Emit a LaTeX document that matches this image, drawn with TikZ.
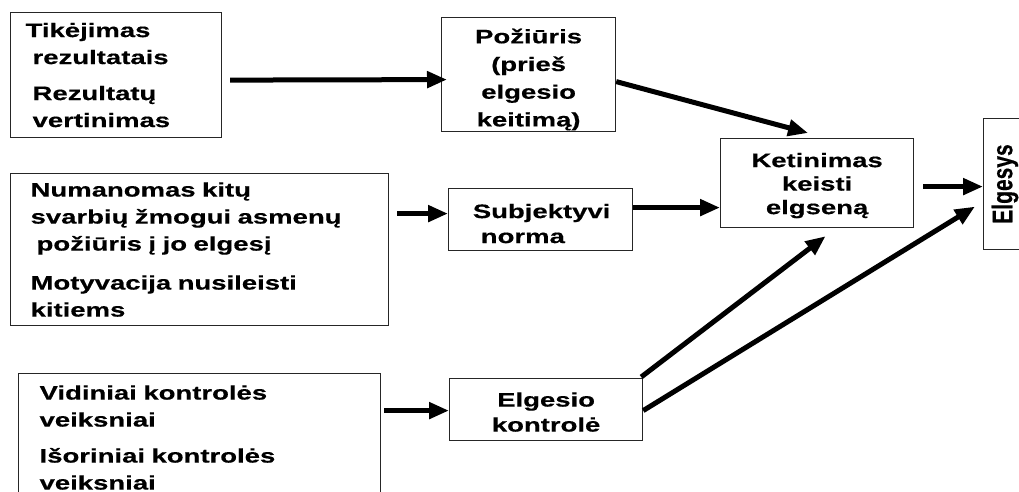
\documentclass[tikz,border=0pt]{standalone}
\usepackage{fontspec}
\setmainfont{Liberation Sans}[FakeStretch=1.41,FakeBold=0.4]
\newfontfamily\plainf{Liberation Sans}[FakeBold=0.4]
\usetikzlibrary{arrows.meta,calc}
\tikzset{
  box/.style={draw=black!85, line width=1.2pt, rectangle, inner ysep=0pt, anchor=north west},
  txt/.style={font=\bfseries\fontsize{19.5}{27}\selectfont},
  ctxt/.style={inner sep=0pt, align=center},
  arr/.style={line width=5pt, -{Triangle[length=20pt,width=16pt]}},
}
\begin{document}
\begin{tikzpicture}[x=1pt,y=-1pt]
\useasboundingbox[fill=white] (0,0) rectangle (1019,492);
% left boxes
\node[box, txt, minimum width=211pt, minimum height=125pt, inner xsep=15pt, text width=181pt, align=left] (b1) at (10,12)
 {Tikėjimas\\\hspace*{7pt}rezultatais\\[9pt]\hspace*{7pt}Rezultatų\\\hspace*{7pt}vertinimas};
\node[box, txt, minimum width=378pt, minimum height=152pt, inner xsep=20pt, text width=338pt, align=left] (b3) at (10,173)
 {Numanomas kitų\\svarbių žmogui asmenų\\\hspace*{6pt}požiūris į jo elgesį\\[12pt]Motyvacija nusileisti\\kitiems};
\node[box, txt, minimum width=362pt, minimum height=128pt, inner xsep=21pt, text width=320pt, align=left] (b6) at (18,373)
 {Vidiniai kontrolės\\veiksniai\\[9pt]Išoriniai kontrolės\\veiksniai};
% middle boxes
\node[box, minimum width=174pt, minimum height=114pt] (b2) at (441,17) {};
\node[ctxt, font=\bfseries\fontsize{19.5}{27.7}\selectfont] (t2) at ($(b2.center)+(0,5)$)
 {Požiūris\\(prieš\\elgesio\\keitimą)};
\node[box, minimum width=184pt, minimum height=62pt] (b4) at (448,188) {};
\node[inner sep=0pt, align=left, font=\bfseries\fontsize{19.5}{25}\selectfont] (t4) at ($(b4.center)+(1,4)$)
 {Subjektyvi\\\hspace*{8pt}norma};
\node[box, minimum width=193pt, minimum height=62pt] (b8) at (449,378) {};
\node[ctxt, font=\bfseries\fontsize{19.5}{25}\selectfont] (t8) at ($(b8.center)+(0,2.5)$)
 {Elgesio\\kontrolė};
\node[box, minimum width=193pt, minimum height=89pt] (b5) at (720,138) {};
\node[ctxt, font=\bfseries\fontsize{19.5}{23.5}\selectfont] (t5) at ($(b5.center)+(0,2.5)$)
 {Ketinimas\\keisti\\elgseną};
% behaviour box
\node[box, minimum width=60pt, minimum height=131pt] (b7) at (983,118) {};
\node[rotate=90, inner sep=0pt, font=\plainf\bfseries\fontsize{21}{21}\selectfont] (t7) at (1005,184)
 {\scalebox{1}[1.35]{Elgesys}};
% arrows
\draw[arr] ($(b1.east)+(8,5)$) -- ($(b2.west)+(6,5)$);
\draw[arr] ($(b2.east)+(0,7)$) -- ($(b5.north)+(-9,-5)$);
\draw[arr] ($(b3.east)+(8,-36)$) -- ($(b4.west)+(0,-6)$);
\draw[arr] ($(b4.east)+(0,-12)$) -- ($(b5.west)+(0,24.5)$);
\draw[arr] ($(b6.east)+(3,-27)$) -- ($(b8.west)+(0,1)$);
\draw[arr] ($(b8.north east)+(-2,-1)$) -- ($(b5.south)+(8.5,8)$);
\draw[arr] ($(b8.east)+(0,1)$) -- ($(b7.west)+(-8,22.5)$);
\draw[arr] ($(b5.east)+(9,3.5)$) -- ($(b7.west)+(0,2.5)$);
\end{tikzpicture}
\end{document}
